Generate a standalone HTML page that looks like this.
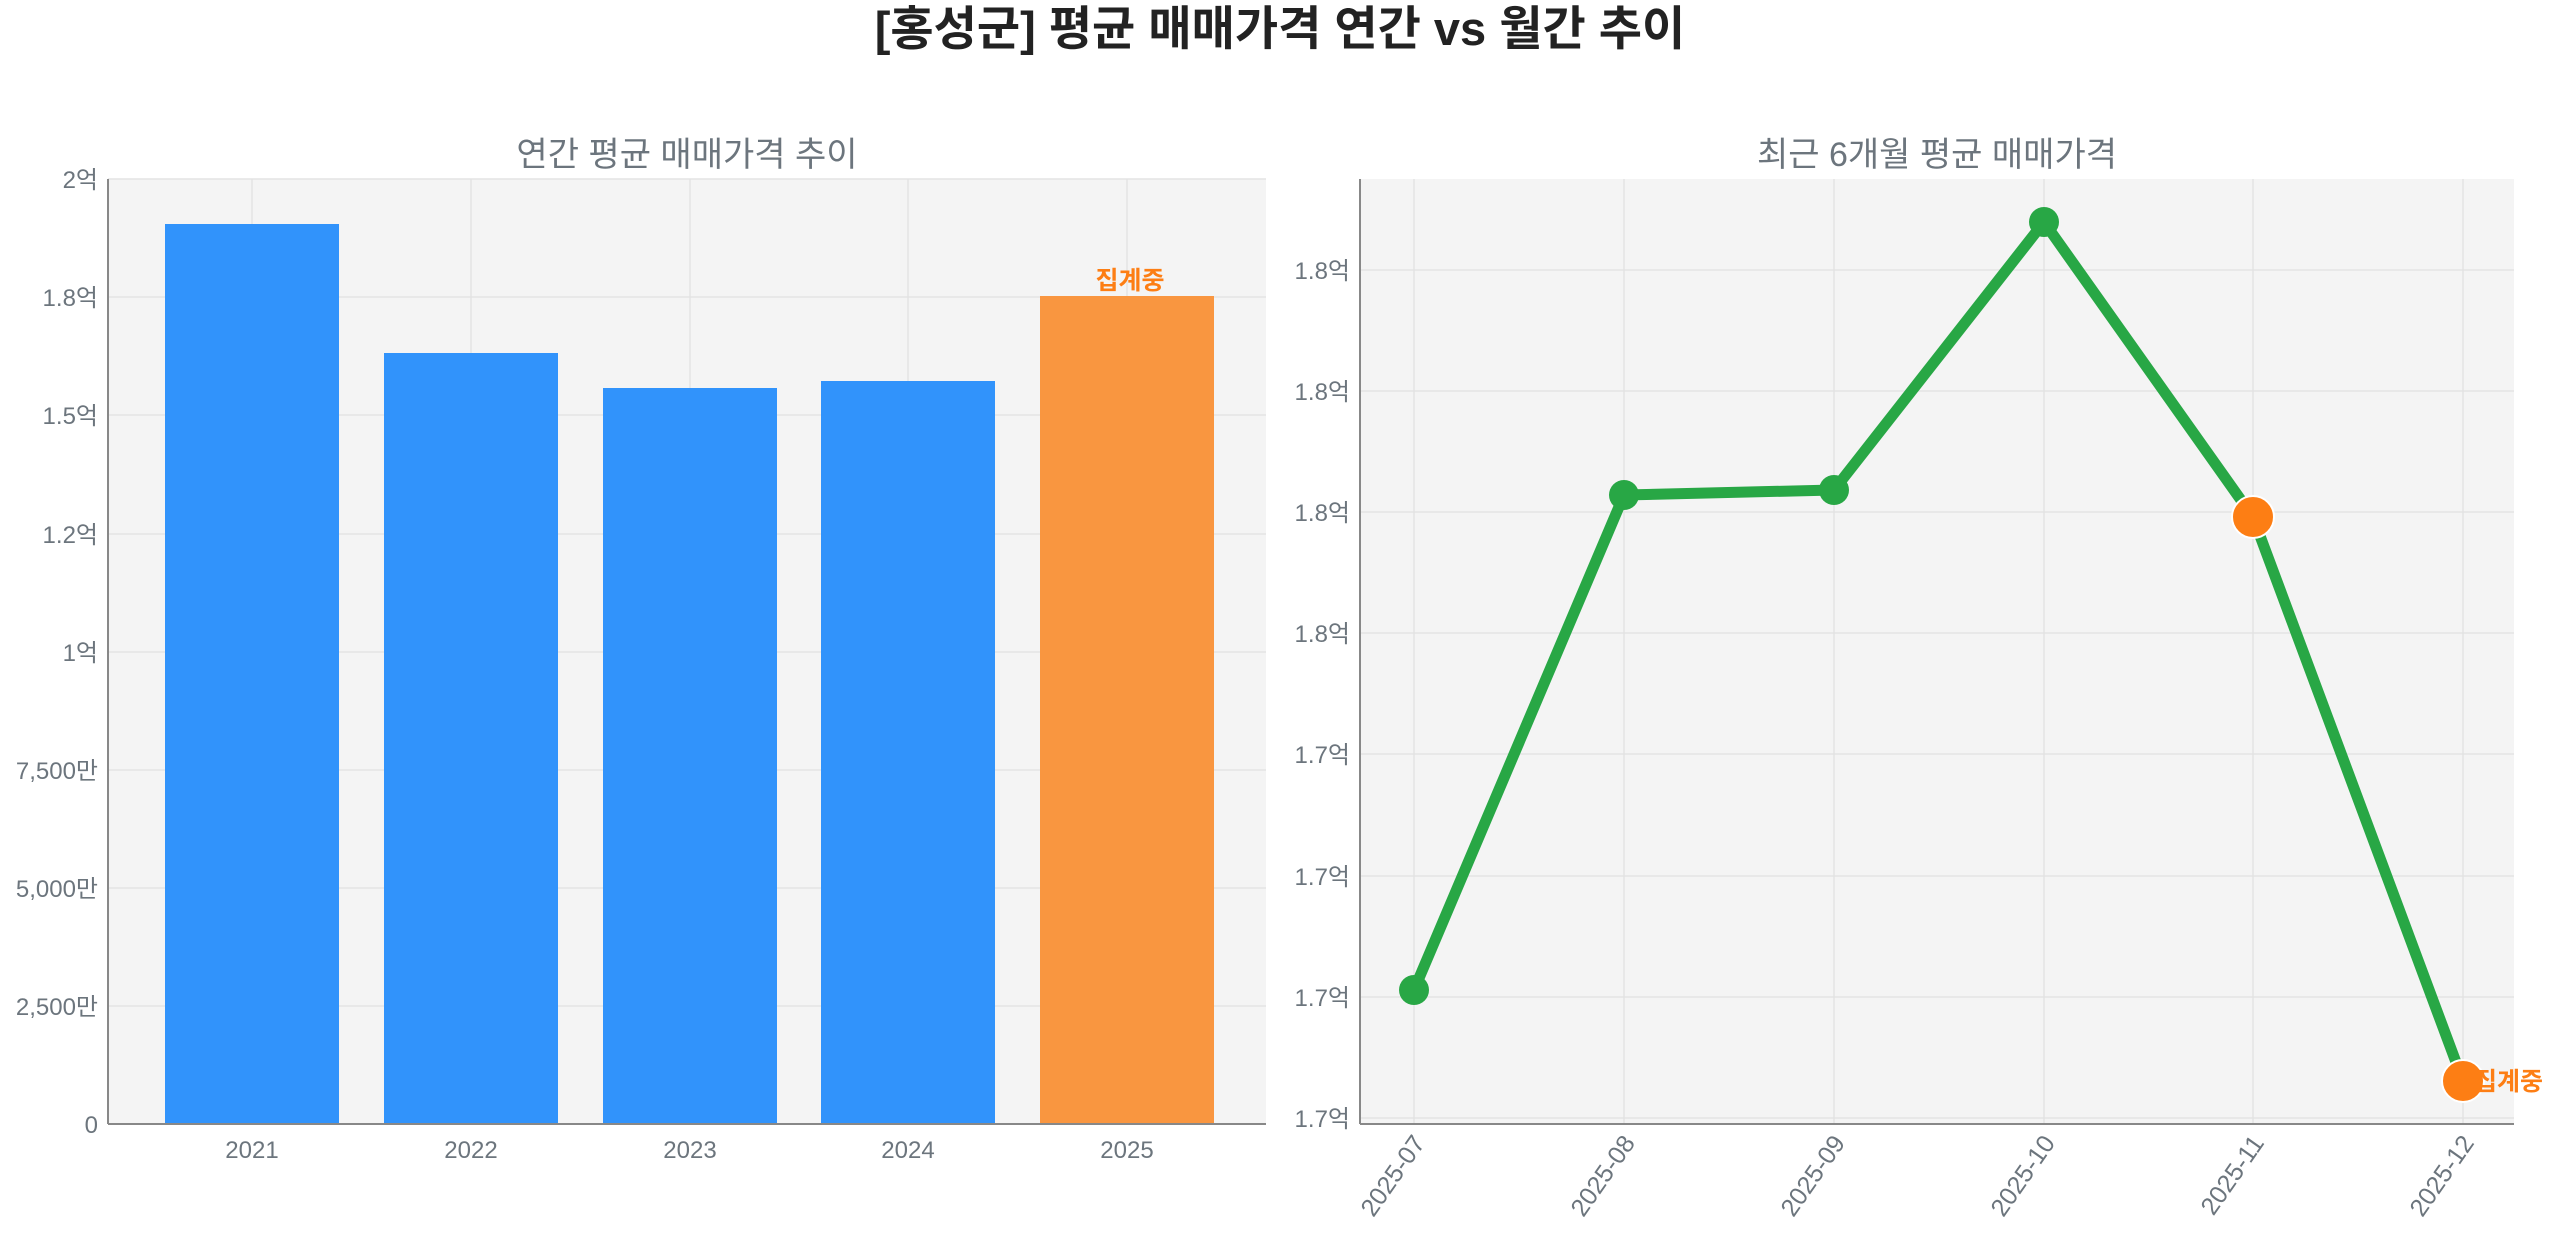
<!DOCTYPE html><html><head><meta charset="utf-8"><style>body{margin:0;background:#fff}svg{display:block}text{font-family:"Liberation Sans","Noto Sans CJK KR",sans-serif}</style></head><body>
<svg width="2560" height="1234" xmlns="http://www.w3.org/2000/svg">
<text x="1280" y="45" text-anchor="middle" font-size="47" font-weight="bold" fill="#222">[홍성군] 평균 매매가격 연간 vs 월간 추이</text>
<!-- left -->
<rect x="108" y="179" width="1158" height="945" fill="#f4f4f4"/>
<g stroke="#e3e3e3" stroke-width="1.5">
<line x1="108" x2="1266" y1="179" y2="179"/><line x1="108" x2="1266" y1="297" y2="297"/><line x1="108" x2="1266" y1="415" y2="415"/><line x1="108" x2="1266" y1="534" y2="534"/><line x1="108" x2="1266" y1="652" y2="652"/><line x1="108" x2="1266" y1="770" y2="770"/><line x1="108" x2="1266" y1="888" y2="888"/><line x1="108" x2="1266" y1="1006" y2="1006"/>
<line y1="179" y2="1124" x1="252" x2="252"/><line y1="179" y2="1124" x1="471" x2="471"/><line y1="179" y2="1124" x1="690" x2="690"/><line y1="179" y2="1124" x1="908" x2="908"/><line y1="179" y2="1124" x1="1127" x2="1127"/>
</g>
<g fill="#3193fb"><rect x="165" y="224" width="174" height="900"/><rect x="384" y="353" width="174" height="771"/><rect x="603" y="388" width="174" height="736"/><rect x="821" y="381" width="174" height="743"/></g>
<rect x="1040" y="296" width="174" height="828" fill="#f99640"/>
<text x="1130" y="289" text-anchor="middle" font-size="25" font-weight="bold" fill="#fd7e14">집계중</text>
<line x1="108" y1="179" x2="108" y2="1124" stroke="#888" stroke-width="2"/><line x1="108" y1="1124" x2="1266" y2="1124" stroke="#888" stroke-width="2"/>
<g font-size="24" fill="#6c757d" text-anchor="end">
<text x="98" y="188">2억</text><text x="98" y="306">1.8억</text><text x="98" y="424">1.5억</text><text x="98" y="543">1.2억</text><text x="98" y="661">1억</text><text x="98" y="779">7,500만</text><text x="98" y="897">5,000만</text><text x="98" y="1015">2,500만</text><text x="98" y="1133">0</text>
</g>
<g font-size="24" fill="#6c757d" text-anchor="middle"><text x="252" y="1158">2021</text><text x="471" y="1158">2022</text><text x="690" y="1158">2023</text><text x="908" y="1158">2024</text><text x="1127" y="1158">2025</text></g>
<text x="687" y="166" text-anchor="middle" font-size="34" fill="#6c757d">연간 평균 매매가격 추이</text>
<!-- right -->
<rect x="1360" y="179" width="1154" height="945" fill="#f4f4f4"/>
<g stroke="#e3e3e3" stroke-width="1.5">
<line x1="1360" x2="2514" y1="270" y2="270"/><line x1="1360" x2="2514" y1="391" y2="391"/><line x1="1360" x2="2514" y1="512" y2="512"/><line x1="1360" x2="2514" y1="633" y2="633"/><line x1="1360" x2="2514" y1="754" y2="754"/><line x1="1360" x2="2514" y1="876" y2="876"/><line x1="1360" x2="2514" y1="997" y2="997"/><line x1="1360" x2="2514" y1="1118" y2="1118"/>
<line y1="179" y2="1124" x1="1414" x2="1414"/><line y1="179" y2="1124" x1="1624" x2="1624"/><line y1="179" y2="1124" x1="1834" x2="1834"/><line y1="179" y2="1124" x1="2044" x2="2044"/><line y1="179" y2="1124" x1="2253" x2="2253"/><line y1="179" y2="1124" x1="2463" x2="2463"/>
</g>
<polyline points="1414,990 1624,495 1834,490 2044,222 2253,517 2463,1081" fill="none" stroke="#28a745" stroke-width="11" stroke-linejoin="round"/>
<g fill="#28a745"><circle cx="1414" cy="990" r="15"/><circle cx="1624" cy="495" r="15"/><circle cx="1834" cy="490" r="15"/><circle cx="2044" cy="222" r="15"/></g>
<g fill="#fd7e14" stroke="#fff" stroke-width="2"><circle cx="2253" cy="517" r="21"/><circle cx="2463" cy="1081" r="21"/></g>
<text x="2474" y="1090" font-size="25" font-weight="bold" fill="#fd7e14">집계중</text>
<line x1="1360" y1="179" x2="1360" y2="1124" stroke="#888" stroke-width="2"/><line x1="1360" y1="1124" x2="2514" y2="1124" stroke="#888" stroke-width="2"/>
<g font-size="24" fill="#6c757d" text-anchor="end">
<text x="1350" y="279">1.8억</text><text x="1350" y="400">1.8억</text><text x="1350" y="521">1.8억</text><text x="1350" y="642">1.8억</text><text x="1350" y="763">1.7억</text><text x="1350" y="885">1.7억</text><text x="1350" y="1006">1.7억</text><text x="1350" y="1127">1.7억</text>
</g>
<g font-size="25" fill="#6c757d" text-anchor="end">
<text transform="translate(1426,1143) rotate(-55)">2025-07</text><text transform="translate(1636,1143) rotate(-55)">2025-08</text><text transform="translate(1846,1143) rotate(-55)">2025-09</text><text transform="translate(2056,1143) rotate(-55)">2025-10</text><text transform="translate(2265,1143) rotate(-55)">2025-11</text><text transform="translate(2475,1143) rotate(-55)">2025-12</text>
</g>
<text x="1937" y="166" text-anchor="middle" font-size="34" fill="#6c757d">최근 6개월 평균 매매가격</text>
</svg></body></html>
